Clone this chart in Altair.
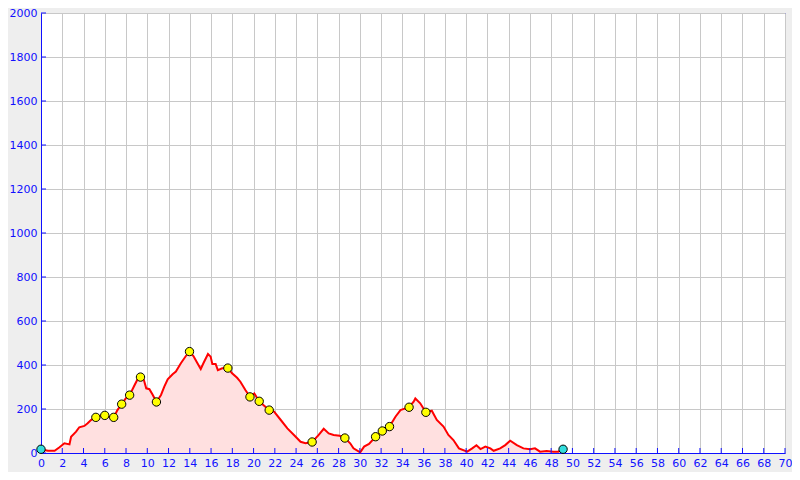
import altair as alt
import pandas as pd

# Elevation profile (km, m)
km = [0.0, 0.65, 1.28, 1.74, 2.2, 2.68, 2.83, 3.3, 3.6, 4.08, 4.39, 4.7, 5.16, 5.48, 6.0, 6.41,
      6.84, 7.19, 7.59, 7.97, 8.34, 8.74, 9.05, 9.36, 9.68, 9.9, 10.2, 10.52, 10.86, 11.29,
      11.6, 11.92, 12.38, 12.69, 13.16, 13.63, 13.97, 14.34, 14.72, 15.03, 15.28, 15.71,
      15.96, 16.12, 16.43, 16.64, 17.05, 17.58, 17.98, 18.45, 18.76, 19.23, 19.66, 20.07,
      20.53, 21.0, 21.47, 21.93, 22.56, 23.18, 23.8, 24.42, 24.89, 25.51, 26.13, 26.6, 27.07,
      27.53, 28.1, 28.59, 29.09, 29.4, 30.03, 30.4, 30.86, 31.48, 32.11, 32.79, 33.35, 33.82,
      34.63, 35.06, 35.22, 35.68, 36.21, 36.77, 37.24, 37.87, 38.33, 38.8, 39.32, 40.1, 40.57,
      40.97, 41.35, 41.81, 42.28, 42.59, 43.2, 43.68, 44.15, 44.77, 45.39, 46.01, 46.48, 46.95,
      47.57, 48.19, 48.66, 49.12]
elev = [17, 10, 10, 26, 44, 39, 74, 97, 117, 123, 135, 150, 162, 168, 171, 165,
        162, 195, 222, 248, 263, 302, 332, 345, 332, 294, 290, 264, 232, 264,
        302, 335, 358, 370, 408, 441, 461, 441, 408, 382, 408, 450,
        438, 405, 405, 377, 385, 386, 362, 342, 324, 286, 255, 271,
        235, 215, 195, 188, 150, 112, 82, 51, 44, 50, 82, 110, 89,
        82, 78, 68, 44, 21, 3, 29, 41, 74, 100, 120, 165, 195,
        208, 233, 248, 226, 185, 192, 150, 120, 82, 59, 21, 6, 21,
        35, 18, 29, 21, 10, 21, 36, 56, 36, 21, 17, 21, 6,
        9, 6, 6, 17]

# Waypoint markers
wp_km = [5.16, 6.0, 6.84, 7.59, 8.34, 9.36, 10.86, 13.97, 17.58, 19.66, 20.53, 21.47,
         25.51, 28.59, 31.48, 32.11, 32.79, 34.63, 36.21]
wp_elev = [162, 171, 162, 222, 263, 345, 232, 461, 386, 255, 235, 195,
           50, 68, 74, 100, 120, 208, 185]
end_km = [0.0, 49.12]
end_elev = [17, 17]

x_ticks = list(range(0, 71, 2))
y_ticks = list(range(0, 2001, 200))

prof = pd.DataFrame({"km": km, "elev": elev})
wp = pd.DataFrame({"km": wp_km, "elev": wp_elev})
ends = pd.DataFrame({"km": end_km, "elev": end_elev})
xt = pd.DataFrame({"km": x_ticks})
yt = pd.DataFrame({"elev": y_ticks})

W, H = 744, 440
blue = "#1010ff"

xs = alt.Scale(domain=[0, 70], nice=False, zero=False)
ys = alt.Scale(domain=[0, 2000], nice=False)

xax = alt.Axis(values=x_ticks, title=None, grid=True, gridColor="#c8c8c8",
               tickSize=0, labelPadding=4, domainColor=blue, labelColor=blue,
               labelFont="DejaVu Sans", labelFontSize=11, labelFlush=False,
               labelOverlap=False, format="d", tickCount=36)
yax = alt.Axis(values=y_ticks, title=None, grid=True, gridColor="#c8c8c8",
               tickSize=0, labelPadding=4, domainColor=blue, labelColor=blue,
               labelFont="DejaVu Sans", labelFontSize=11, labelFlush=False,
               labelOverlap=False, format="d", tickCount=11)

X = alt.X("km:Q", scale=xs, axis=xax)
Y = alt.Y("elev:Q", scale=ys, axis=yax)

area = alt.Chart(prof).mark_area(color="#ffe0e0", opacity=1).encode(x=X, y=Y)
line = alt.Chart(prof).mark_line(color="#ff0000", strokeWidth=2).encode(x=X, y=Y)
pts = alt.Chart(wp).mark_point(shape="circle", filled=True, fill="#ffff00",
                               stroke="black", strokeWidth=1, size=70, opacity=1).encode(x=X, y=Y)
endpts = alt.Chart(ends).mark_point(shape="circle", filled=True, fill="#33dddd",
                                    stroke="black", strokeWidth=1, size=70, opacity=1).encode(x=X, y=Y)
xtick = alt.Chart(xt).mark_rule(color=blue, strokeWidth=1).encode(
    x=X, y=alt.value(H), y2=alt.value(H - 5)
)
ytick = alt.Chart(yt).mark_rule(color=blue, strokeWidth=1).encode(
    y=Y, x=alt.value(0), x2=alt.value(5)
)

chart = alt.layer(area, line, xtick, ytick, pts, endpts).properties(
    width=W, height=H,
    background="#eeeeee",
    padding={"left": 33, "top": 5, "right": 7, "bottom": 19},
    autosize=alt.AutoSizeParams(type="none"),
).configure_view(stroke=blue, strokeWidth=1, fill="white")

chart.save("out.html", embed_options={"renderer": "svg", "actions": False})
